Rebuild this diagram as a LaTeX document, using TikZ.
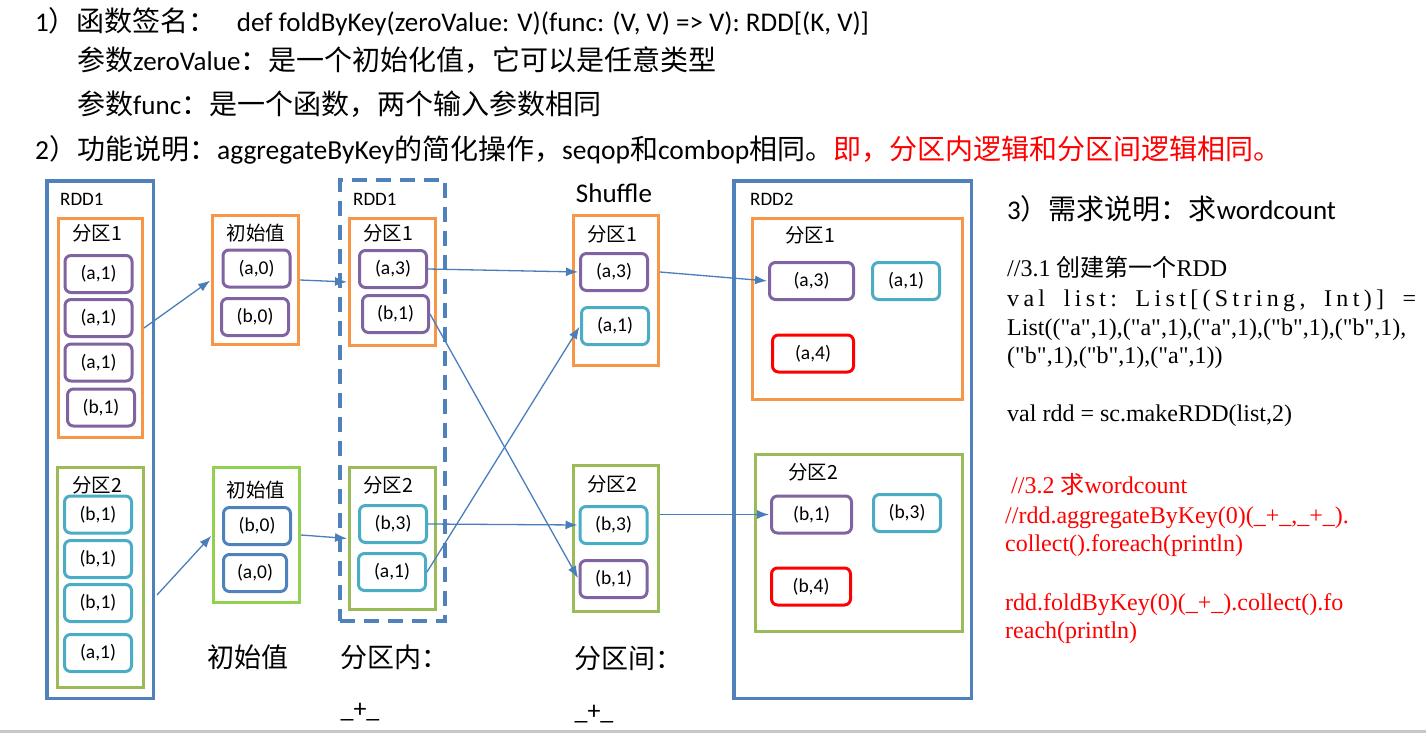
\documentclass[tikz,border=0pt]{standalone}
\usepackage{fontspec}
\setmainfont{Carlito}
\newfontfamily\cjk{Noto Sans CJK SC}
\newfontfamily\codefont{Liberation Serif}
\newfontfamily\codespaced[LetterSpace=18]{Liberation Serif}
\usetikzlibrary{arrows.meta,positioning}
\definecolor{rddblue}{HTML}{4F81BD}
\definecolor{partorange}{HTML}{F79646}
\definecolor{partgreen}{HTML}{9BBB59}
\definecolor{initgreen}{HTML}{92D050}
\definecolor{kvpurple}{HTML}{8064A2}
\definecolor{kvcyan}{HTML}{4BACC6}
\definecolor{kvred}{HTML}{FF0000}
\definecolor{flowblue}{HTML}{4A7EBB}
\newcommand{\zhtext}[1]{{\cjk\fontsize{28}{32}\selectfont #1}}
\newcommand{\zhcode}[1]{{\cjk #1}}

\begin{document}
\begin{tikzpicture}[
        x=1pt,y=-1pt,
        flow/.style={-{Latex[length=12pt,width=9pt]},line width=1.3pt,draw=flowblue,shorten >=1pt},
        rddbox/.style={draw=rddblue,line width=3.5pt,inner sep=0pt},
        partbox/.style={draw=#1,line width=3pt,inner sep=0pt},
        kv/.style={draw=#1,line width=3pt,rounded corners=6pt,minimum width=67pt,
          minimum height=37pt,inner sep=0pt,font=\fontsize{19.5}{22}\selectfont},
        rddlabel/.style={anchor=west,inner sep=0pt,font=\fontsize{19}{22}\selectfont},
        lbl/.style={inner sep=0pt,font=\cjk\fontsize{19.5}{22}\selectfont},
        colnote/.style={inner sep=0pt,font=\cjk\fontsize{27}{32}\selectfont},
        headline/.style={anchor=base west,inner sep=0pt,font=\fontsize{27}{32}\selectfont},
        codeline/.style={anchor=base west,inner sep=0pt,font=\codefont\fontsize{24}{29}\selectfont}
      ]
        \useasboundingbox (0,0) rectangle (1426,733);
        \fill[black!22] (0,730) rectangle (1426,733);

        % heading text
        \node[headline] (sig) at (35,32)
          {1\zhtext{）函数签名：}\hspace{20pt}def foldByKey(zeroValue: V)(func: (V, V) => V): RDD[(K, V)]};
        \node[headline] (zero) at (77,71) {\zhtext{参数}zeroValue\zhtext{：是一个初始化值，它可以是任意类型}};
        \node[headline] (func) at (77,115) {\zhtext{参数}func\zhtext{：是一个函数，两个输入参数相同}};
        \node[headline,font=\fontsize{27.5}{32}\selectfont] (usage) at (35,159)
          {2\zhtext{）功能说明：}aggregateByKey\zhtext{的简化操作，}seqop\zhtext{和}combop\zhtext{相同。}\textcolor{kvred}{\zhtext{即，分区内逻辑和分区间逻辑相同。}}};

        % source RDD1
        \node[rddbox,minimum width=106.5pt,minimum height=517.5pt] (lrdd) at (100,439.5) {};
        \node[rddlabel] (lrddname) at (60,199) {RDD1};
        \node[partbox=partorange,minimum width=84pt,minimum height=219pt] (lp1) at (100.5,328) {};
        \node[lbl] (lp1name) at (97,233) {分区1};
        \node[kv=kvpurple] (la1) at (98.5,274) {(a,1)};
        \node[kv=kvpurple] (la2) at (98.5,318) {(a,1)};
        \node[kv=kvpurple] (la3) at (98.5,362.5) {(a,1)};
        \node[kv=kvpurple] (lb1) at (101,407.5) {(b,1)};
        \node[partbox=partgreen,minimum width=86pt,minimum height=220pt] (lp2) at (100.5,577.5) {};
        \node[lbl] (lp2name) at (97,485) {分区2};
        \node[kv=kvcyan] (lb2) at (98,514.5) {(b,1)};
        \node[kv=kvcyan] (lb3) at (98,559) {(b,1)};
        \node[kv=kvcyan] (lb4) at (98,603) {(b,1)};
        \node[kv=kvcyan] (la4) at (98,653) {(a,1)};
        \coordinate (lrddout) at (157,595);

        % zero values
        \node[partbox=partorange,minimum width=86pt,minimum height=129pt] (iv1) at (255.5,280) {};
        \node[lbl] (iv1name) at (256,233) {初始值};
        \node[kv=kvpurple] (ia0) at (256.5,268.5) {(a,0)};
        \node[kv=kvpurple] (ib0) at (255,317) {(b,0)};
        \node[partbox=initgreen,minimum width=86pt,minimum height=135pt] (iv2) at (256.5,535) {};
        \node[lbl] (iv2name) at (256,490) {初始值};
        \node[kv=rddblue] (jb0) at (257,526) {(b,0)};
        \node[kv=rddblue,minimum width=63pt] (ja0) at (255,573) {(a,0)};

        % RDD1 after the in-partition step
        \node[rddbox,line width=4pt,dash pattern=on 15pt off 9pt,
          minimum width=105pt,minimum height=441pt] (mrdd) at (392.5,400.5) {};
        \node[rddlabel] (mrddname) at (353,199) {RDD1};
        \node[partbox=partorange,minimum width=86pt,minimum height=127pt] (mp1) at (392.5,282) {};
        \node[lbl] (mp1name) at (388,233) {分区1};
        \node[kv=kvpurple] (ma3) at (393,269) {(a,3)};
        \node[kv=kvpurple,minimum width=66pt] (mb1) at (395.5,314) {(b,1)};
        \node[partbox=partgreen,minimum width=86pt,minimum height=142pt] (mp2) at (392.5,538.5) {};
        \node[lbl] (mp2name) at (388,485) {分区2};
        \node[kv=kvcyan] (mb3) at (393,524) {(b,3)};
        \node[kv=kvcyan] (ma1) at (392,572) {(a,1)};

        % shuffle
        \node[inner sep=0pt,font=\fontsize{27}{32}\selectfont] (shuf) at (614,193) {Shuffle};
        \node[partbox=partorange,minimum width=85.5pt,minimum height=150pt] (sp1) at (615.75,290.5) {};
        \node[lbl] (sp1name) at (612,234) {分区1};
        \node[kv=kvpurple] (sa3) at (614,272) {(a,3)};
        \node[kv=kvcyan] (sa1) at (615,326) {(a,1)};
        \node[partbox=partgreen,minimum width=85.5pt,minimum height=146pt] (sp2) at (615.75,538.5) {};
        \node[lbl] (sp2name) at (612,484) {分区2};
        \node[kv=kvcyan] (sb3) at (613.5,525) {(b,3)};
        \node[kv=kvpurple] (sb1) at (613.5,579) {(b,1)};

        % result RDD2
        \node[rddbox,minimum width=237.5pt,minimum height=517.5pt] (rrdd) at (852.5,439.5) {};
        \node[rddlabel] (rrddname) at (750,199) {RDD2};
        \node[partbox=partorange,minimum width=210pt,minimum height=181pt] (rp1) at (857.5,309) {};
        \node[lbl] (rp1name) at (810,235) {分区1};
        \node[kv=kvpurple,minimum width=84pt] (ra3) at (811.5,281) {(a,3)};
        \node[kv=kvcyan] (ra1) at (906,281) {(a,1)};
        \node[kv=kvred,minimum width=81pt] (ra4) at (813,353.5) {(a,4)};
        \node[partbox=partgreen,minimum width=207pt,minimum height=177pt] (rp2) at (859,543) {};
        \node[lbl] (rp2name) at (813,472) {分区2};
        \node[kv=kvpurple,minimum width=80pt] (rb1) at (811.5,514.5) {(b,1)};
        \node[kv=kvcyan] (rb3) at (907,513) {(b,3)};
        \node[kv=kvred,minimum width=79pt] (rb4) at (811,586.5) {(b,4)};

        % notes under the columns
        \node[colnote] (initnote) at (248,657) {初始值};
        \node[colnote,anchor=west] (innote) at (340,657) {分区内：};
        \node[colnote,anchor=west] (betweennote) at (574,658) {分区间：};
        \node[anchor=base,inner sep=0pt,font=\fontsize{26}{30}\selectfont] (innerop) at (360,717) {\_+\_};
        \node[anchor=base,inner sep=0pt,font=\fontsize{26}{30}\selectfont] (outerop) at (594,719) {\_+\_};

        % flows
        \draw[flow] (lp1.east) -- (iv1.west);
        \draw[flow] (lrddout) -- (iv2.west);
        \draw[flow] (iv1.east) -- (mp1.west);
        \draw[flow] (iv2.east) -- (mp2.west);
        \draw[flow] (ma3.east) -- (sa3.west);
        \draw[flow] (mb1.east) -- (sb1.west);
        \draw[flow] (mb3.east) -- (sb3.west);
        \draw[flow] (ma1.east) -- (sa1.west);
        \draw[flow] (sp1.east |- sa3.east) -- (ra3.west);
        \draw[flow] (sp2.east |- rb1.west) -- (rb1.west);

        % wordcount code
        \node[headline] (task) at (1007,219) {3\zhtext{）需求说明：求}wordcount};
        \node[codeline] (codeA) at (1007,276) {//3.1 \zhcode{创建第一个}RDD};
        \node[codeline] (codeB) at (1007,306) {\frenchspacing\makebox[409pt][s]{\codespaced val list: List[(String, Int)] =}};
        \node[codeline] (codeC) at (1007,335) {List(("a",1),("a",1),("a",1),("b",1),("b",1),};
        \node[codeline] (codeD) at (1007,363) {("b",1),("b",1),("a",1))};
        \node[codeline] (codeE) at (1007,421) {val rdd = sc.makeRDD(list,2)};
        \node[codeline,text=kvred] (redA) at (1011,493) {//3.2 \zhcode{求}wordcount};
        \node[codeline,text=kvred] (redB) at (1005,523) {//rdd.aggregateByKey(0)(\_+\_,\_+\_).};
        \node[codeline,text=kvred] (redC) at (1005,551) {collect().foreach(println)};
        \node[codeline,text=kvred] (redD) at (1005,610) {rdd.foldByKey(0)(\_+\_).collect().fo};
        \node[codeline,text=kvred] (redE) at (1005,638) {reach(println)};
      \end{tikzpicture}
\end{document}
